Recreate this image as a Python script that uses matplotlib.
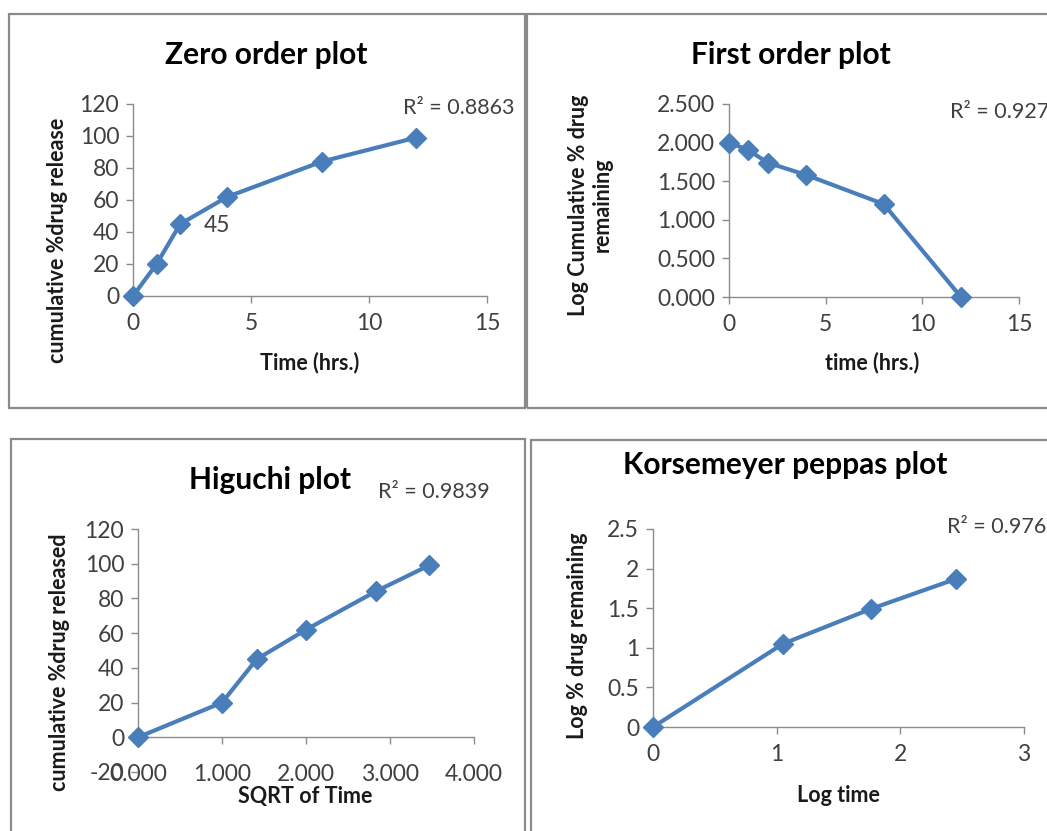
import matplotlib
matplotlib.use("Agg")
import matplotlib.pyplot as plt
from matplotlib.patches import Rectangle
from matplotlib.ticker import FormatStrFormatter, FuncFormatter

plt.rcParams['font.family'] = ['Lato', 'DejaVu Sans']
plt.rcParams['axes.unicode_minus'] = False

# ---- data ----
time_hrs = [0, 1, 2, 4, 8, 12]
cum_release = [0, 20, 45, 62, 84, 99]
log_remaining = [2.000, 1.903, 1.740, 1.580, 1.204, 0.000]
sqrt_time = [0.000, 1.000, 1.414, 2.000, 2.828, 3.464]
log_time = [0, 1.05, 1.76, 2.45]
log_release = [0, 1.05, 1.49, 1.87]

titles = ["Zero order plot", "First order plot", "Higuchi plot", "Korsemeyer peppas plot"]
r2_texts = ["R\u00b2 = 0.8863", "R\u00b2 = 0.927", "R\u00b2 = 0.9839", "R\u00b2 = 0.976"]

W, H = 1047, 831
fig = plt.figure(figsize=(W / 100, H / 100), dpi=100)

BLUE = '#4a7ebb'
SPINE = '#8c8c8c'
TICKC = '#404040'
LABC = '#1a1a1a'
TICKFS = 16.5
LABFS = 15.5
TITLEFS = 21.5
R2FS = 15.5


def px_axes(left, right, top, bottom):
    return fig.add_axes([left / W, 1 - bottom / H, (right - left) / W, (bottom - top) / H])


def style(ax):
    for s in ['top', 'right']:
        ax.spines[s].set_visible(False)
    for s in ['left', 'bottom']:
        ax.spines[s].set_color(SPINE)
        ax.spines[s].set_linewidth(1.0)
    ax.tick_params(direction='out', length=5, width=1.0, color=SPINE,
                   labelcolor=TICKC, labelsize=TICKFS)
    ax.tick_params(axis='x', pad=7)
    ax.tick_params(axis='y', pad=5)


def ftext(x, y, s, **kw):
    fig.text(x / W, 1 - y / H, s, **kw)


def series(ax, x, y):
    ax.plot(x, y, color=BLUE, lw=3.0, marker='D', markersize=10,
            markerfacecolor=BLUE, markeredgecolor=BLUE, clip_on=False, zorder=5)


# frames
for (l, r, t, b) in [(9, 525, 14, 408), (527, 1052, 14, 408),
                     (11, 525, 439, 836), (531, 1052, 440, 836)]:
    fig.add_artist(Rectangle((l / W, 1 - b / H), (r - l) / W, (b - t) / H,
                             transform=fig.transFigure, fill=False,
                             edgecolor='#8a8a8a', lw=1.6))

# ---- Panel 1: Zero order ----
ax1 = px_axes(133, 487, 104, 296)
series(ax1, time_hrs, cum_release)
ax1.set_xlim(0, 15)
ax1.set_ylim(0, 120)
ax1.set_xticks([0, 5, 10, 15])
ax1.set_yticks(range(0, 121, 20))
style(ax1)
ax1.annotate("45", xy=(time_hrs[2], cum_release[2]), xytext=(17, -1),
             textcoords='offset points', ha='left', va='center',
             fontsize=TICKFS, color=TICKC)
ftext(266, 55, titles[0], ha='center', va='center', fontsize=TITLEFS, fontweight='bold')
ftext(403, 108, r2_texts[0], ha='left', va='center', fontsize=R2FS, color=TICKC)
ftext(310, 363, "Time (hrs.)", ha='center', va='center', fontsize=LABFS, fontweight='bold', color=LABC)
ftext(58, 240, "cumulative %drug release", ha='center', va='center', rotation=90,
      fontsize=LABFS, fontweight='bold', color=LABC)

# ---- Panel 2: First order ----
ax2 = px_axes(729, 1019, 104, 297)
series(ax2, time_hrs, log_remaining)
ax2.set_xlim(0, 15)
ax2.set_ylim(0, 2.5)
ax2.set_xticks([0, 5, 10, 15])
ax2.set_yticks([0, 0.5, 1.0, 1.5, 2.0, 2.5])
ax2.yaxis.set_major_formatter(FormatStrFormatter('%.3f'))
style(ax2)
ftext(791, 55, titles[1], ha='center', va='center', fontsize=TITLEFS, fontweight='bold')
ftext(950, 112, r2_texts[1], ha='left', va='center', fontsize=R2FS, color=TICKC)
ftext(872, 363, "time (hrs.)", ha='center', va='center', fontsize=LABFS, fontweight='bold', color=LABC)
ftext(590, 205, "Log Cumulative % drug\nremaining", ha='center', va='center', rotation=90,
      fontsize=LABFS, fontweight='bold', color=LABC, linespacing=1.15)

# ---- Panel 3: Higuchi ----
ax3 = px_axes(138, 474, 529, 772)
series(ax3, sqrt_time, cum_release)
ax3.set_xlim(0, 4)
ax3.set_ylim(-20, 120)
ax3.set_xticks([0, 1, 2, 3, 4])
ax3.set_yticks(range(-20, 121, 20))
ax3.xaxis.set_major_formatter(FormatStrFormatter('%.3f'))
style(ax3)
ax3.spines['bottom'].set_position(('data', 0))
ax3.spines['left'].set_bounds(0, 120)
ax3.tick_params(axis='x', pad=14)
ftext(270, 480, titles[2], ha='center', va='center', fontsize=TITLEFS, fontweight='bold')
ftext(378, 492, r2_texts[2], ha='left', va='center', fontsize=R2FS, color=TICKC)
ftext(305, 796, "SQRT of Time", ha='center', va='center', fontsize=LABFS, fontweight='bold', color=LABC)
ftext(60, 662, "cumulative %drug released", ha='center', va='center', rotation=90,
      fontsize=LABFS, fontweight='bold', color=LABC)

# ---- Panel 4: Korsemeyer peppas ----
ax4 = px_axes(653, 1024, 529, 727)
series(ax4, log_time, log_release)
ax4.set_xlim(0, 3)
ax4.set_ylim(0, 2.5)
ax4.set_xticks([0, 1, 2, 3])
ax4.set_yticks([0, 0.5, 1.0, 1.5, 2.0, 2.5])
ax4.yaxis.set_major_formatter(FuncFormatter(lambda v, p: f"{v:g}"))
style(ax4)
ftext(785, 465, titles[3], ha='center', va='center', fontsize=TITLEFS, fontweight='bold')
ftext(947, 527, r2_texts[3], ha='left', va='center', fontsize=R2FS, color=TICKC)
ftext(838, 796, "Log time", ha='center', va='center', fontsize=LABFS, fontweight='bold', color=LABC)
ftext(578, 636, "Log % drug remaining", ha='center', va='center', rotation=90,
      fontsize=LABFS, fontweight='bold', color=LABC)

fig.savefig("out.png", dpi=100, facecolor='white')
